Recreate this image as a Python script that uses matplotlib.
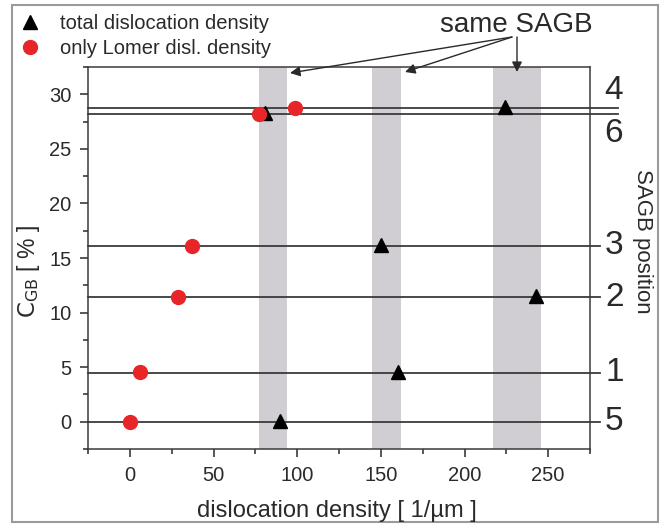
import matplotlib
matplotlib.use("Agg")
import matplotlib.pyplot as plt
from matplotlib.patches import Rectangle, FancyArrowPatch

plt.rcParams['font.family'] = ['Liberation Sans', 'DejaVu Sans']

# SAGB positions (labels) and their C_GB values
positions = ['4', '6', '3', '2', '1', '5']
cgb = [28.7, 28.2, 16.1, 11.4, 4.5, 0.0]

# total dislocation density (triangles)
total_x = [224, 81, 150, 243, 160, 90]
total_y = [28.8, 28.3, 16.2, 11.5, 4.6, 0.1]

# only Lomer dislocation density (circles)
lomer_x = [99, 77, 37, 29, 6, 0]
lomer_y = [28.7, 28.2, 16.1, 11.4, 4.6, 0.0]

# gray bands (same SAGB)
bands = [(77, 94), (145, 162), (217, 246)]

W, H = 670, 527
fig = plt.figure(figsize=(6.7, 5.27), dpi=100)
ax = fig.add_axes([88 / W, 1 - 449 / H, 502 / W, 382 / H])

txt = '#2a2a2a'
for a, b in bands:
    ax.axvspan(a, b, color='#d0ced3', zorder=0, lw=0)

for p, y in zip(positions, cgb):
    xend = 292 if p in ('4', '6') else 281
    ax.plot([-25, xend], [y, y], color='#3a3a3a', lw=1.3, zorder=1, clip_on=False)

ax.plot(total_x, total_y, ls='none', marker='^', color='black', ms=9.5, zorder=3,
        label='total dislocation density')
ax.plot(lomer_x, lomer_y, ls='none', marker='o', color='#e8262a', ms=10, zorder=3,
        label='only Lomer disl. density')

for p, y in zip(positions, cgb):
    if p == '4':
        ax.text(289, 28.95, p, fontsize=24, color=txt, ha='center', va='bottom', clip_on=False)
    elif p == '6':
        ax.text(289, 27.8, p, fontsize=24, color=txt, ha='center', va='top', clip_on=False)
    else:
        ax.text(289.5, y, p, fontsize=24, color=txt, ha='center', va='center', clip_on=False)

ax.set_xlim(-25, 275)
ax.set_ylim(-2.5, 32.5)
ax.set_xticks([0, 50, 100, 150, 200, 250])
ax.set_xticks([-25, 25, 75, 125, 175, 225, 275], minor=True)
ax.set_yticks([0, 5, 10, 15, 20, 25, 30])
ax.set_yticks([-2.5, 2.5, 7.5, 12.5, 17.5, 22.5, 27.5, 32.5], minor=True)
ax.tick_params(direction='out', labelsize=14.5, colors=txt, length=6, width=1.1,
               top=False, right=False, pad=6)
ax.tick_params(which='minor', direction='out', length=3.5, width=1.1, colors=txt)
for s in ax.spines.values():
    s.set_color('#3a3a3a')
    s.set_linewidth(1.1)

fig.text(337 / W, 1 - 511 / H, 'dislocation density [ 1/µm ]', fontsize=17, color=txt,
         ha='center', va='center')
fig.text(28 / W, 1 - 272 / H, r'$\mathrm{C}_{\mathrm{GB}}$ [ % ]', fontsize=16.5, color=txt,
         rotation=90, ha='center', va='center')
fig.text(642 / W, 1 - 241 / H, 'SAGB position', rotation=-90, fontsize=16, color=txt,
         ha='center', va='center')

fig.legend(loc='upper left', bbox_to_anchor=(6 / W, 1 - 0 / H), frameon=False, fontsize=14.5,
           handlelength=1.0, handletextpad=1.0, labelspacing=0.3, borderaxespad=0.3,
           labelcolor=txt)

# same SAGB annotation
fig.text(516 / W, 1 - 25 / H, 'same SAGB', fontsize=20, color=txt, ha='center', va='center')
for sx, ex, ey in [(512, 290, 73), (512, 405, 72), (517, 517, 72)]:
    fig.add_artist(FancyArrowPatch(
        posA=(sx / W, 1 - 37 / H), posB=(ex / W, 1 - ey / H), transform=fig.transFigure,
        arrowstyle='-|>,head_length=6,head_width=3', color='#2a2a2a', lw=1.0,
        shrinkA=0, shrinkB=0))

fig.add_artist(Rectangle((12 / W, 5 / H), 646 / W, 517 / H, transform=fig.transFigure,
                         fill=False, edgecolor='#9a9a9a', lw=1.5))

fig.savefig('out.png', dpi=100)
